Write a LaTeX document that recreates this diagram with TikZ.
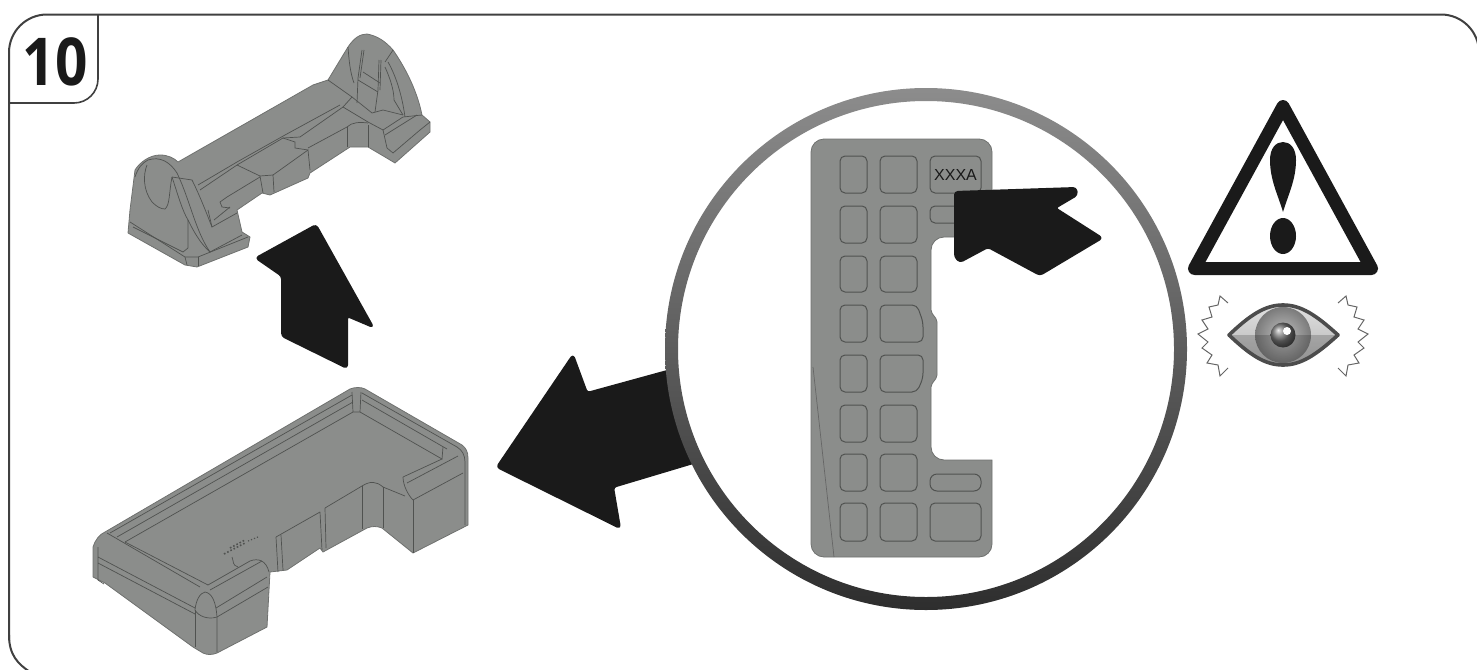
\documentclass[tikz,border=0pt]{standalone}
\usepackage{fontspec}
\newfontfamily\stepfont[FakeStretch=.86]{Open Sans}
\newfontfamily\markfont{Liberation Sans}
\definecolor{partgray}{HTML}{8B8D8B}
\definecolor{partline}{HTML}{505250}
\definecolor{arrowblack}{HTML}{1A1A1A}
\tikzset{
  partbody/.style = {fill=partgray, draw=partgray!80!black, line width=.4pt, line join=round},
  partedge/.style = {draw=partline, line width=.35pt},
  cellbox/.style = {draw=partline, line width=.5pt, rounded corners=2.5pt},
  blockarrow/.style = {fill=arrowblack, draw=arrowblack, line width=1pt, line join=round, rounded corners=1.5pt},
  zigline/.style = {draw=black!60, line width=.5pt}
}
\begin{document}
\begin{tikzpicture}[x=.5pt,y=-.5pt]
\useasboundingbox (0,0) rectangle (1477,669);
% frame and step badge
\draw [line width=1pt, draw=black!75, rounded corners=19pt] (9,640) -- (9,14.5) -- (1479,14.5) -- (1479,640);
\draw [line width=1pt, draw=black!75] (9,635) .. controls (9,655) and (18,664) .. (30,672);
\draw [line width=.8pt, draw=black!75, rounded corners=12pt] (98,14.5) -- (98,103) -- (9,103);
\node [inner sep=0pt, font=\stepfont\bfseries\fontsize{33}{33}\selectfont, text=arrowblack] (stepno) at (55,62) {10};

% upper part
\path [partbody] (128,233) -- (130,210) -- (135,170) .. controls (140,162) and (150,155) .. (160,155)
  .. controls (168,155) and (174,158) .. (178,162) -- (313,85) -- (328,80) -- (348,47)
  .. controls (354,38) and (360,34) .. (367,34) .. controls (378,36) and (386,42) .. (393,50)
  .. controls (400,60) and (416,85) .. (422,115) -- (430,122) -- (430,132) -- (395,163) -- (385,157)
  -- (368,147) -- (350,147) -- (310,173) -- (308,178)
  -- (270,195) -- (262,193) -- (237,210) -- (242,232) -- (250,237) -- (248,247) -- (197,267)
  -- (185,265) -- cycle;
% left end
\draw [partedge] (135,177) .. controls (138,168) and (142,163) .. (148,160) .. controls (160,156) and (170,162) .. (177,173)
  .. controls (190,200) and (195,230) .. (210,252);
\draw [partedge] (147,165) .. controls (143,175) and (143,190) .. (152,202) .. controls (157,207) and (161,209) .. (165,209)
  .. controls (170,205) and (169,192) .. (172,177);
\draw [partedge] (172,177) .. controls (178,195) and (182,210) .. (188,220) -- (188,248);
\draw [partedge] (188,220) .. controls (194,232) and (200,243) .. (210,252);
\draw [partedge] (172,177) -- (192,180) .. controls (200,196) and (206,212) .. (212,227);
\draw [partedge] (130,222) -- (185,257) -- (198,257) -- (248,237);
\draw [partedge] (133,227) -- (183,252) -- (188,248);
\draw [partedge] (210,252) -- (242,235);
\draw [partedge] (185,257) -- (187,265);
\draw [partedge] (198,257) -- (198,266);
% middle of the upper part
\draw [partedge] (200,190) -- (237,165) -- (283,138);
\draw [partedge] (198,185) -- (237,162) -- (285,135) -- (340,105);
\draw [partedge] (208,210) -- (212,227) -- (237,213);
\draw [partedge] (214,220) -- (230,207);
\draw [partedge] (230,208) -- (222,207) -- (220,202) -- (227,197) -- (260,177);
\draw [partedge] (237,165) -- (260,176) -- (263,193);
\draw [partedge] (260,176) -- (273,175) -- (274,192);
\draw [partedge] (273,175) -- (308,150) -- (310,170);
\draw [partedge] (283,138) -- (295,142) -- (295,148) -- (308,150);
\draw [partedge] (283,138) -- (300,137) -- (343,107);
\draw [partedge] (308,148) -- (347,127) .. controls (352,122) and (360,122) .. (368,123);
\draw [partedge] (347,127) -- (347,147);
\draw [partedge] (368,125) -- (368,147);
% right end
\draw [partedge] (328,80) -- (352,97);
\draw [partedge] (343,107) -- (352,97) -- (372,113);
\draw [partedge] (343,107) -- (368,122) -- (383,130);
\draw [partedge] (348,47) .. controls (349,60) and (350,72) .. (354,83);
\draw [partedge] (362,50) -- (358,78) -- (357,103);
\draw [partedge] (364,50) -- (360,78);
\draw [partedge] (379,60) -- (378,90) -- (375,112);
\draw [partedge] (381,60) -- (380,90);
\draw [partedge] (363,72) -- (380,83);
\draw [partedge] (358,80) -- (378,92);
\draw [partedge] (393,50) -- (385,62);
\draw [partedge] (388,62) .. controls (396,76) and (402,95) .. (405,117);
\draw [partedge] (385,67) .. controls (390,78) and (394,90) .. (394,100) -- (403,115);
\draw [partedge] (372,113) -- (383,110) -- (403,115);
\draw [partedge] (383,130) -- (403,117) -- (422,115);
\draw [partedge] (383,130) -- (387,148) -- (393,153) -- (420,130);
\draw [partedge] (385,135) -- (417,115);
\draw [partedge] (420,130) -- (430,122);

% lower part
\path [partbody] (93,547) .. controls (95,540) and (100,534) .. (105,532) -- (350,389)
  .. controls (355,387) and (361,387) .. (365,389) -- (462,445) .. controls (466,448) and (468,452) .. (468,458)
  -- (468,525) -- (413,553) -- (382,528) .. controls (377,526) and (372,526) .. (367,528) -- (323,552)
  -- (320,548) -- (287,570) -- (270,572) -- (267,627) -- (217,653) .. controls (212,655) and (207,655) .. (203,653)
  -- (193,647) -- (105,583) -- (93,577) -- cycle;
% rim lines along the top surface
\draw [partedge] (107,533) -- (200,587);
\draw [partedge] (110,533) -- (352,395);
\draw [partedge] (117,537) -- (353,402);
\draw [partedge] (125,542) -- (353,412) -- (360,412) -- (442,459) -- (403,477);
\draw [partedge] (125,542) -- (208,585);
\draw [partedge] (353,412) -- (352,392);
\draw [partedge] (360,412) -- (361,392);
\draw [partedge] (362,393) -- (457,447);
\draw [partedge] (362,400) -- (447,449);
\draw [partedge] (442,459) -- (443,447);
\draw [partedge] (457,447) .. controls (462,450) and (465,455) .. (465,462) -- (465,525);
% corner block at the right
\draw [partedge] (403,477) .. controls (403,485) and (408,495) .. (413,500) -- (463,473);
\draw [partedge] (407,483) -- (458,456);
\draw [partedge] (413,500) -- (413,553);
\draw [partedge] (383,487) -- (405,496);
\draw [partedge] (362,486) .. controls (370,481) and (376,481) .. (383,487);
\draw [partedge] (362,486) -- (362,529);
\draw [partedge] (383,487) -- (383,528);
% front wall
\draw [partedge] (276,537) -- (278,572);
\draw [partedge] (281,535) -- (283,570);
\draw [partedge] (320,512) -- (322,550);
\draw [partedge] (325,508) -- (326,548);
\draw [partedge] (276,537) -- (320,512);
\draw [partedge] (325,508) -- (362,486);
% corner block at the front
\draw [partedge] (98,557) -- (195,608);
\draw [partedge] (98,563) -- (195,614);
\draw [partedge] (98,547) -- (98,580) -- (104,584);
\draw [partedge] (195,610) .. controls (196,600) and (200,593) .. (205,592) .. controls (212,593) and (216,602) .. (217,617) -- (217,652);
\draw [partedge] (195,610) .. controls (198,616) and (208,620) .. (217,617) -- (268,587);
\draw [partedge] (216,608) -- (267,577);
\draw [partedge] (195,610) -- (195,647);
\draw [partedge] (208,585) -- (250,561) .. controls (258,558) and (266,560) .. (269,572);
\draw [partedge] (210,590) -- (262,561);
\draw [partedge] (232,557) .. controls (234,562) and (232,565) .. (238,567);
% small print on the lower part
\draw [partline, line width=.8pt, densely dotted] (224,554) -- (245,543);
\draw [partline, line width=.8pt, densely dotted] (230,548) -- (245,540);
\draw [partline, line width=.6pt, densely dotted] (248,541) -- (258,537);

% left arrow, its end goes under the circle
\path [blockarrow] (497,467) -- (573,355) -- (587,393) -- (700,362) -- (720,455) -- (613,487) -- (620,528) -- cycle;
% up arrow
\path [blockarrow] (316,225) -- (373,327) -- (347,316) -- (347,368) -- (282,336) -- (282,276) -- (256,258) -- cycle;

% circle
\fill [white] (926,349) circle (255);
\path [top color=black!45, bottom color=black!82, even odd rule] (926,349) circle (261) (926,349) circle (248);

% card
\path [fill=partgray, draw=partgray!80!black, line width=.4pt, rounded corners=6.5pt] (811,139) -- (992,139) -- (992,237) -- (931,237)
  [rounded corners=1pt] -- (931,312) -- (937,320) -- (937,377) -- (931,385) [rounded corners=6.5pt] -- (931,460)
  [sharp corners] -- (992,460) [rounded corners=6.5pt] -- (992,557) -- (811,557) -- cycle;
\draw [partedge, draw=black!60] (813,367) -- (834,557);
\foreach \top/\bot in {156/193,206/243,256/292,305/342,355/392,405/442,454/491,503/541}
  \draw [cellbox] (840,\top) rectangle (867,\bot);
\foreach \top/\bot in {156/193,206/243,256/292,405/442,454/491,503/541}
  \draw [cellbox] (880,\top) rectangle (917,\bot);
\draw [cellbox] (880,305) -- (917,305) -- (923,322) -- (923,342) -- (880,342) -- cycle;
\draw [cellbox] (880,355) -- (923,355) -- (923,378) -- (917,392) -- (880,392) -- cycle;
\draw [cellbox] (930,156) rectangle (981,193);
\draw [cellbox] (930,206) rectangle (981,223);
\draw [cellbox, rounded corners=3.5pt] (930,474) rectangle (981,491);
\draw [cellbox] (930,503) rectangle (981,541);
\node [inner sep=0pt, text=black!90, font=\markfont\fontsize{8}{8}\selectfont] (cardmark) at (955.5,175) {XXXA};

% small arrow on the card
\path [blockarrow] (955,192) -- (1076,188) -- (1077,195) -- (1055,208) -- (1102,238) -- (1040,275) -- (988,247) -- (960,262) -- (955,257) -- cycle;

% warning sign
\draw [arrowblack, line width=6.5pt, line join=round] (1283,106.5) -- (1371.5,268.5) -- (1194.5,268.5) -- cycle;
\fill [arrowblack] (1283,212) .. controls (1278,195) and (1270,180) .. (1270,160) .. controls (1270,148) and (1276,142) .. (1283,142)
  .. controls (1290,142) and (1296,148) .. (1296,160) .. controls (1296,180) and (1288,195) .. (1283,212) -- cycle;
\fill [arrowblack] (1283,236) ellipse (13 and 18);

% eye with its jagged lines
\path [top color=black!12, bottom color=black!30]
  (1229,335) .. controls (1250,315) and (1265,305) .. (1283,305) .. controls (1301,305) and (1316,315) .. (1338,335)
  .. controls (1316,355) and (1301,365) .. (1283,365) .. controls (1265,365) and (1250,355) .. (1229,335) -- cycle;
\begin{scope}
\clip (1229,335) .. controls (1250,315) and (1265,305) .. (1283,305) .. controls (1301,305) and (1316,315) .. (1338,335)
  .. controls (1316,355) and (1301,365) .. (1283,365) .. controls (1265,365) and (1250,355) .. (1229,335) -- cycle;
\shade [inner color=black!25, outer color=black!52] (1283,335) circle (28);
\fill [black, opacity=.18] (1225,335) rectangle (1342,370);
\end{scope}
\draw [black!70, line width=1.8pt, line join=round]
  (1229,335) .. controls (1250,315) and (1265,305) .. (1283,305) .. controls (1301,305) and (1316,315) .. (1338,335)
  .. controls (1316,355) and (1301,365) .. (1283,365) .. controls (1265,365) and (1250,355) .. (1229,335) -- cycle;
\shade [ball color=black!55] (1283,335) circle (12.5);
\fill [white] (1287,331) circle (4);
\draw [zigline] (1228,303) -- (1220,296) -- (1218,305) -- (1209,307) -- (1212,317) -- (1202,320) -- (1208,329) -- (1198,334) -- (1208,342) -- (1202,348) -- (1212,355) -- (1207,363) -- (1218,365) -- (1220,376) -- (1228,368);
\draw [zigline] (1338,303) -- (1346,296) -- (1348,305) -- (1357,307) -- (1354,317) -- (1364,320) -- (1358,329) -- (1368,334) -- (1358,342) -- (1364,348) -- (1354,355) -- (1359,363) -- (1348,365) -- (1346,376) -- (1338,368);
\end{tikzpicture}
\end{document}
